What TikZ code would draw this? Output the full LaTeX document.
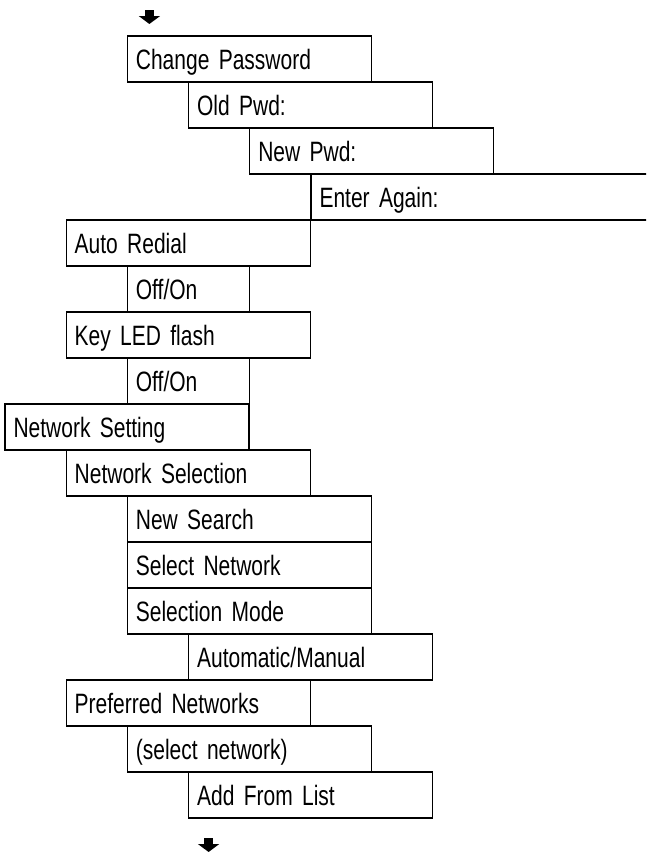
\documentclass[tikz,border=0pt]{standalone}
\usepackage{fontspec}
\newfontfamily\menufont{Liberation Sans}[FakeStretch=0.75]
\usetikzlibrary{arrows.meta,calc}
\tikzset{item/.style={draw, line width=1.1pt, anchor=north west, outer sep=0pt,
    inner xsep=8.5pt, inner ysep=0pt, text width=227pt, align=left,
    minimum height=46pt, text height=20pt, text depth=0pt,
    font=\menufont\fontsize{28}{32}\selectfont},
  short/.style={item, text width=105.4pt},
  wide/.style={item, text width=340pt},
  more/.style={line width=9pt, -{Triangle[width=21pt, length=8pt]}}}

\begin{document}
\begin{tikzpicture}
  \useasboundingbox (0,0) rectangle (646pt,-852pt);
  \clip (0,0) rectangle (646pt,-852pt);
  % password branch
  \node[item] (chpw) at (127.4pt,-36pt) {Change Password};
  \node[item] (oldpw) at ($(chpw.south west)+(61.2pt,0)$) {Old Pwd:};
  \node[item] (newpw) at ($(oldpw.south west)+(61.2pt,0)$) {New Pwd:};
  \node[wide] (again) at ($(newpw.south west)+(61.2pt,0)$) {Enter Again:};
  % switches
  \node[item] (redial) at ($(again.south west)+(-244.8pt,0)$) {Auto Redial};
  \node[short] (redialsw) at ($(redial.south west)+(61.2pt,0)$) {Off/On};
  \node[item] (led) at ($(redialsw.south west)+(-61.2pt,0)$) {Key LED flash};
  \node[short] (ledsw) at ($(led.south west)+(61.2pt,0)$) {Off/On};
  % network branch
  \node[item] (netset) at ($(ledsw.south west)+(-122.4pt,0)$) {Network Setting};
  \node[item] (netsel) at ($(netset.south west)+(61.2pt,0)$) {Network Selection};
  \node[item] (search) at ($(netsel.south west)+(61.2pt,0)$) {New Search};
  \node[item] (selnet) at (search.south west) {Select Network};
  \node[item] (selmode) at (selnet.south west) {Selection Mode};
  \node[item] (automan) at ($(selmode.south west)+(61.2pt,0)$) {Automatic/Manual};
  \node[item] (prefnet) at ($(automan.south west)+(-122.4pt,0)$) {Preferred Networks};
  \node[item] (prefsel) at ($(prefnet.south west)+(61.2pt,0)$) {(select network)};
  \node[item] (addlist) at ($(prefsel.south west)+(61.2pt,0)$) {Add From List};
  % continuation marks
  \coordinate (intop) at ($(chpw.north west)+(22pt,26pt)$);
  \coordinate (intip) at ($(chpw.north west)+(22pt,12pt)$);
  \coordinate (outtop) at ($(addlist.south west)+(20pt,-20pt)$);
  \coordinate (outtip) at ($(addlist.south west)+(20pt,-34pt)$);
  \draw[more] (intop) -- (intip);
  \draw[more] (outtop) -- (outtip);
\end{tikzpicture}
\end{document}
